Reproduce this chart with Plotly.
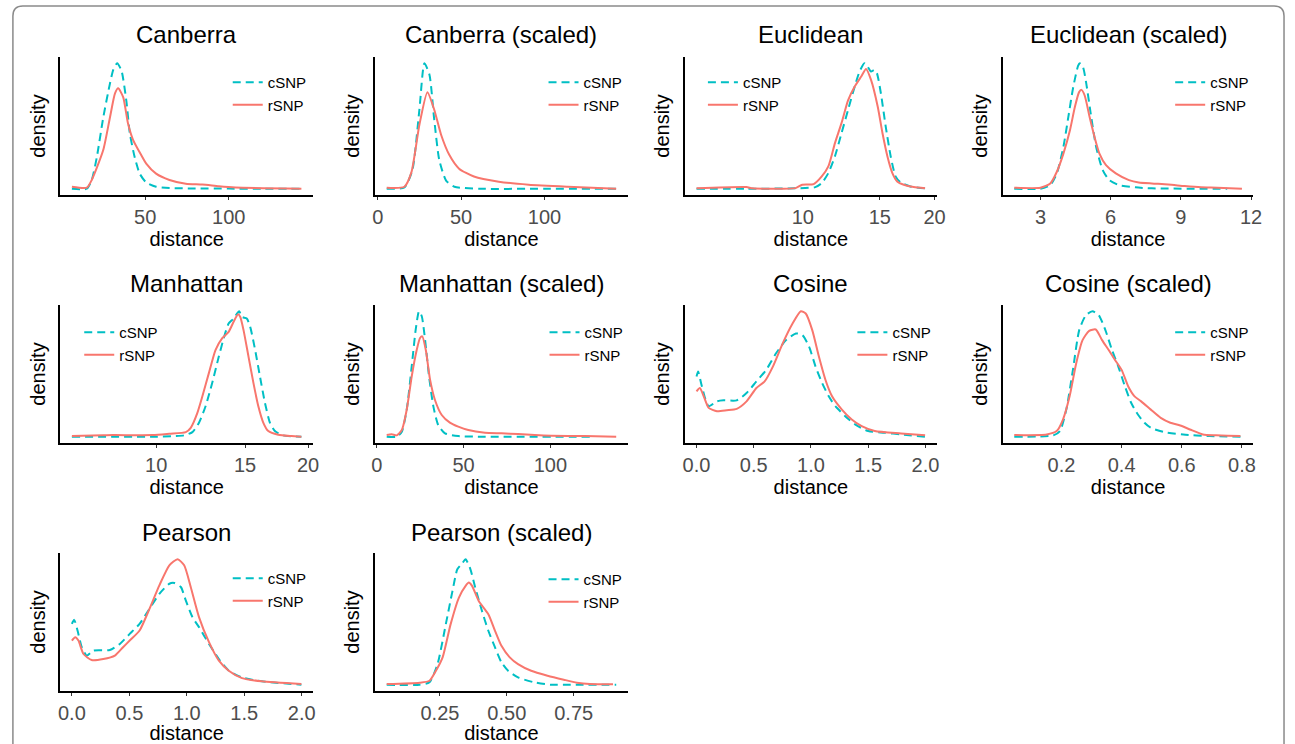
import plotly.graph_objects as go
import math

W, H = 1295, 744

titles = ["Canberra", "Canberra (scaled)", "Euclidean", "Euclidean (scaled)",
          "Manhattan", "Manhattan (scaled)", "Cosine", "Cosine (scaled)",
          "Pearson", "Pearson (scaled)"]

series_names = ["cSNP", "rSNP"]

# ---------------- data (relative density) ----------------
canberra_c_x = [6.1, 15, 18, 21, 24.9, 28.9, 30.9, 33.2, 35.8, 38.7, 40.8, 43.7, 46.7, 50.6, 56.5, 64.5, 80, 100, 120, 143.5]
canberra_c_y = [0, 0, 0.07, 0.25, 0.57, 0.84, 0.95, 1.0, 0.94, 0.70, 0.44, 0.25, 0.12, 0.05, 0.016, 0.005, 0.002, 0.001, 0, 0]
canberra_r_x = [6.1, 15, 18, 24.9, 28.9, 31.9, 33.8, 36.8, 39.7, 42.7, 46.7, 50.6, 56.5, 64.5, 74.3, 84.2, 94.1, 104, 143.5]
canberra_r_y = [0.016, 0.008, 0.07, 0.31, 0.57, 0.76, 0.80, 0.73, 0.52, 0.39, 0.29, 0.20, 0.12, 0.07, 0.04, 0.034, 0.02, 0.01, 0]

canberra_s_c_x = [5.4, 16, 20.8, 25, 28, 31, 33.9, 36.9, 41, 46, 61, 100, 143]
canberra_s_c_y = [0, 0.01, 0.15, 0.63, 1.0, 0.91, 0.55, 0.23, 0.065, 0.016, 0, 0, 0]
canberra_s_r_x = [5.4, 16, 20.2, 25, 29.8, 33.9, 38, 42.9, 48.8, 57.7, 72.6, 90.5, 114, 143]
canberra_s_r_y = [0.008, 0.016, 0.13, 0.51, 0.77, 0.63, 0.43, 0.27, 0.16, 0.097, 0.056, 0.032, 0.016, 0]

euclid_c_x = [5.72, 7.5, 9.63, 10.68, 11.05, 11.44, 11.84, 12.26, 12.69, 13.14, 13.48, 13.83, 14.07, 14.32, 14.57, 14.77, 15.08, 15.47, 15.88, 16.29, 16.72, 17.61, 19.03]
euclid_c_y = [0, 0, 0.003, 0.013, 0.045, 0.124, 0.256, 0.44, 0.625, 0.81, 0.929, 0.995, 0.968, 0.929, 0.942, 0.916, 0.757, 0.493, 0.256, 0.098, 0.05, 0.018, 0.003]
euclid_r_x = [5.72, 7.43, 7.69, 9.63, 9.97, 10.59, 11.05, 11.44, 11.84, 12.26, 12.69, 13.14, 13.60, 13.95, 14.32, 14.83, 15.21, 15.61, 16.02, 16.43, 17.01, 17.92, 19.03]
euclid_r_y = [0.003, 0.013, 0.003, 0.005, 0.032, 0.037, 0.098, 0.177, 0.36, 0.52, 0.70, 0.81, 0.89, 0.95, 0.863, 0.652, 0.44, 0.256, 0.124, 0.058, 0.032, 0.013, 0.003]

euclid_s_c_x = [1.88, 3.0, 3.42, 3.70, 3.98, 4.19, 4.40, 4.61, 4.68, 4.82, 4.96, 5.17, 5.38, 5.66, 5.94, 6.36, 7.06, 7.76, 10.98]
euclid_s_c_y = [0, 0, 0.029, 0.122, 0.333, 0.571, 0.81, 0.981, 1.0, 0.968, 0.836, 0.571, 0.333, 0.148, 0.069, 0.029, 0.011, 0.003, 0]
euclid_s_r_x = [1.88, 3.0, 3.42, 3.70, 3.98, 4.26, 4.47, 4.65, 4.75, 4.89, 5.10, 5.31, 5.52, 5.80, 6.22, 6.78, 7.20, 7.76, 8.46, 9.16, 9.86, 10.56, 11.61]
euclid_s_r_y = [0.008, 0.008, 0.042, 0.135, 0.28, 0.466, 0.651, 0.77, 0.788, 0.743, 0.571, 0.413, 0.28, 0.188, 0.122, 0.069, 0.05, 0.042, 0.034, 0.021, 0.011, 0.008, 0]

manh_c_x = [6.81, 9.85, 10.94, 11.36, 11.80, 12.16, 12.53, 12.91, 13.31, 13.61, 13.92, 14.24, 14.46, 14.61, 14.79, 15.12, 15.36, 15.71, 16.06, 16.43, 16.81, 17.19, 17.85, 19.40]
manh_c_y = [0, 0, 0.005, 0.011, 0.037, 0.111, 0.243, 0.427, 0.639, 0.784, 0.902, 0.942, 0.982, 1.0, 0.955, 0.942, 0.876, 0.691, 0.48, 0.269, 0.111, 0.045, 0.011, 0]
manh_r_x = [6.81, 7.86, 8.22, 9.85, 10.62, 11.45, 11.71, 12.07, 12.35, 12.72, 13.11, 13.51, 13.92, 14.24, 14.53, 14.68, 14.90, 15.24, 15.59, 15.94, 16.31, 16.68, 17.45, 18.53, 19.40]
manh_r_y = [0.005, 0.011, 0.013, 0.013, 0.024, 0.037, 0.071, 0.19, 0.322, 0.507, 0.691, 0.784, 0.836, 0.916, 0.976, 0.955, 0.85, 0.639, 0.427, 0.243, 0.111, 0.045, 0.016, 0.005, 0]

manh_s_c_x = [5.7, 11.5, 14.4, 17.2, 20.1, 22.4, 24.3, 25.9, 27.8, 30.1, 32.6, 35.4, 39.3, 46.9, 62.3, 123.6]
manh_s_c_y = [0, 0, 0.04, 0.213, 0.56, 0.853, 1.0, 0.96, 0.773, 0.48, 0.24, 0.093, 0.027, 0.005, 0, 0]
manh_s_r_x = [5.7, 8.6, 11.5, 14.4, 17.2, 20.1, 23.0, 24.9, 26.2, 28.2, 30.7, 33.5, 37.4, 42.1, 46.9, 52.7, 62.3, 71.8, 81.4, 91.0, 100.6, 119.7, 137.9]
manh_s_r_y = [0.013, 0.019, 0.011, 0.053, 0.213, 0.48, 0.693, 0.787, 0.8, 0.693, 0.453, 0.293, 0.173, 0.112, 0.08, 0.053, 0.032, 0.027, 0.021, 0.013, 0.008, 0.005, 0]

cos_c_x = [0.0, 0.014, 0.040, 0.078, 0.106, 0.178, 0.236, 0.351, 0.437, 0.523, 0.609, 0.695, 0.782, 0.868, 0.925, 0.983, 1.040, 1.098, 1.155, 1.213, 1.299, 1.385, 1.5, 1.644, 1.787, 1.997]
cos_c_y = [0.48, 0.52, 0.427, 0.296, 0.243, 0.282, 0.29, 0.29, 0.348, 0.441, 0.533, 0.665, 0.77, 0.823, 0.81, 0.718, 0.559, 0.427, 0.322, 0.243, 0.164, 0.098, 0.045, 0.032, 0.018, 0]
cos_r_x = [0.0, 0.029, 0.063, 0.106, 0.178, 0.264, 0.351, 0.437, 0.523, 0.595, 0.667, 0.753, 0.839, 0.911, 0.954, 1.011, 1.069, 1.126, 1.184, 1.270, 1.356, 1.443, 1.557, 1.787, 1.997]
cos_r_y = [0.361, 0.388, 0.322, 0.23, 0.203, 0.211, 0.222, 0.282, 0.388, 0.441, 0.559, 0.744, 0.902, 1.0, 0.982, 0.85, 0.639, 0.454, 0.322, 0.216, 0.137, 0.084, 0.045, 0.026, 0.011]

cos_s_c_x = [0.043, 0.173, 0.195, 0.216, 0.238, 0.259, 0.281, 0.303, 0.324, 0.346, 0.368, 0.389, 0.411, 0.432, 0.454, 0.476, 0.497, 0.541, 0.605, 0.692, 0.8]
cos_s_c_y = [0, 0.011, 0.045, 0.216, 0.533, 0.85, 0.968, 1.0, 0.968, 0.85, 0.691, 0.559, 0.401, 0.269, 0.177, 0.111, 0.071, 0.037, 0.018, 0.005, 0]
cos_s_r_x = [0.043, 0.151, 0.184, 0.205, 0.227, 0.249, 0.270, 0.292, 0.314, 0.335, 0.357, 0.378, 0.4, 0.422, 0.443, 0.465, 0.497, 0.530, 0.562, 0.595, 0.627, 0.670, 0.714, 0.795]
cos_s_r_y = [0.013, 0.018, 0.045, 0.137, 0.322, 0.586, 0.77, 0.844, 0.855, 0.77, 0.691, 0.612, 0.533, 0.401, 0.322, 0.282, 0.216, 0.15, 0.111, 0.09, 0.058, 0.018, 0.011, 0.005]

pear_c_x = [0, 0.020, 0.049, 0.086, 0.129, 0.187, 0.330, 0.417, 0.503, 0.589, 0.675, 0.761, 0.848, 0.891, 0.948, 0.991, 1.049, 1.106, 1.193, 1.279, 1.365, 1.480, 1.652, 1.997]
pear_c_y = [0.485, 0.517, 0.432, 0.299, 0.232, 0.272, 0.277, 0.325, 0.405, 0.485, 0.605, 0.725, 0.805, 0.811, 0.779, 0.672, 0.539, 0.459, 0.325, 0.205, 0.112, 0.059, 0.027, 0]
pear_r_x = [0, 0.029, 0.057, 0.101, 0.172, 0.273, 0.374, 0.445, 0.503, 0.589, 0.675, 0.761, 0.848, 0.920, 0.977, 1.034, 1.106, 1.193, 1.279, 1.365, 1.480, 1.652, 1.997]
pear_r_y = [0.352, 0.379, 0.352, 0.245, 0.197, 0.205, 0.232, 0.299, 0.352, 0.432, 0.605, 0.792, 0.952, 1.0, 0.952, 0.779, 0.539, 0.339, 0.192, 0.112, 0.053, 0.027, 0.005]

pear_s_c_x = [0.051, 0.174, 0.211, 0.241, 0.272, 0.297, 0.315, 0.333, 0.346, 0.364, 0.382, 0.407, 0.431, 0.456, 0.480, 0.505, 0.542, 0.603, 0.664, 0.738, 0.909]
pear_s_c_y = [0, 0, 0.019, 0.164, 0.483, 0.748, 0.92, 0.966, 1.0, 0.92, 0.775, 0.589, 0.43, 0.297, 0.178, 0.111, 0.058, 0.019, 0, 0, 0]
pear_s_r_x = [0.051, 0.174, 0.211, 0.235, 0.260, 0.290, 0.321, 0.346, 0.358, 0.370, 0.395, 0.431, 0.456, 0.480, 0.511, 0.542, 0.591, 0.652, 0.713, 0.762, 0.811, 0.897]
pear_s_r_y = [0.005, 0.016, 0.032, 0.111, 0.218, 0.483, 0.695, 0.788, 0.814, 0.788, 0.668, 0.562, 0.43, 0.31, 0.218, 0.164, 0.111, 0.072, 0.04, 0.016, 0.005, 0.003]

# tick values per panel
ticks_canberra = [50, 100]
ticks_canberra_s = [0, 50, 100]
ticks_euclid = [10, 15, 20]
ticks_euclid_s = [3, 6, 9, 12]
ticks_manh = [10, 15, 20]
ticks_manh_s = [0, 50, 100]
ticks_cos = [0.0, 0.5, 1.0, 1.5, 2.0]
ticks_cos_s = [0.2, 0.4, 0.6, 0.8]
ticks_pear = [0.0, 0.5, 1.0, 1.5, 2.0]
ticks_pear_s = [0.25, 0.50, 0.75]

panels = [
    (canberra_c_x, canberra_c_y, canberra_r_x, canberra_r_y, False, ticks_canberra, "{:g}"),
    (canberra_s_c_x, canberra_s_c_y, canberra_s_r_x, canberra_s_r_y, False, ticks_canberra_s, "{:g}"),
    (euclid_c_x, euclid_c_y, euclid_r_x, euclid_r_y, True, ticks_euclid, "{:g}"),
    (euclid_s_c_x, euclid_s_c_y, euclid_s_r_x, euclid_s_r_y, False, ticks_euclid_s, "{:g}"),
    (manh_c_x, manh_c_y, manh_r_x, manh_r_y, True, ticks_manh, "{:g}"),
    (manh_s_c_x, manh_s_c_y, manh_s_r_x, manh_s_r_y, False, ticks_manh_s, "{:g}"),
    (cos_c_x, cos_c_y, cos_r_x, cos_r_y, False, ticks_cos, "{:.1f}"),
    (cos_s_c_x, cos_s_c_y, cos_s_r_x, cos_s_r_y, False, ticks_cos_s, "{:.1f}"),
    (pear_c_x, pear_c_y, pear_r_x, pear_r_y, False, ticks_pear, "{:.1f}"),
    (pear_s_c_x, pear_s_c_y, pear_s_r_x, pear_s_r_y, False, ticks_pear_s, "{:.2f}"),
]

# ---------------- layout geometry (pixels) ----------------
col_px = [(57, 312), (375, 630), (688, 942), (1009, 1262)]
row_px = [(57, 195), (305, 443), (553, 691)]
title_y = [35, 283, 532]
legend_px = [(233, 82), (552, 82), (713, 82), (1185, 82),
             (83, 332), (553, 332), (864, 332), (1185, 332),
             (233, 578), (552, 579)]

COL_C = "#00BFC4"
COL_R = "#F8766D"
FONT = "Liberation Sans, Arial, Helvetica, sans-serif"

fig = go.Figure()
layout = dict(width=W, height=H, margin=dict(l=0, r=0, t=0, b=0),
              paper_bgcolor="white", plot_bgcolor="white",
              font=dict(family=FONT, color="black"), annotations=[], shapes=[])

def px_x(p):
    return p / W

def px_y(p):
    return 1 - p / H

for i, (cx, cy, rx, ry, is_log, tv, fmt) in enumerate(panels):
    r, c = divmod(i, 4)
    n = "" if i == 0 else str(i + 1)
    x0, x1 = col_px[c]
    y0, y1 = row_px[r]
    leg = "legend" if i == 0 else "legend%d" % (i + 1)
    allx = cx + rx
    ally = cy + ry
    if is_log:
        lo, hi = math.log10(min(allx)), math.log10(max(allx))
    else:
        lo, hi = min(allx), max(allx)
    d = (hi - lo) * 0.05
    xr = [lo - d, hi + d]
    ymax = max(ally)
    yr = [-0.05 * ymax, 1.05 * ymax]

    fig.add_trace(go.Scatter(x=cx, y=cy, mode="lines", name=series_names[0],
                             line=dict(color=COL_C, width=2, dash="8px,5px", shape="spline", smoothing=0.6),
                             xaxis="x" + n, yaxis="y" + n, legend=leg, legendgroup="c%d" % i))
    fig.add_trace(go.Scatter(x=rx, y=ry, mode="lines", name=series_names[1],
                             line=dict(color=COL_R, width=2, shape="spline", smoothing=0.6),
                             xaxis="x" + n, yaxis="y" + n, legend=leg, legendgroup="r%d" % i))

    layout["xaxis" + n] = dict(
        domain=[px_x(x0), px_x(x1)], anchor="y" + n, type="log" if is_log else "linear",
        range=xr, tickvals=tv, ticktext=[fmt.format(v) for v in tv],
        showline=True, linecolor="black", linewidth=1.6, mirror=False,
        ticks="outside", ticklen=3, tickwidth=1.2, tickcolor="#333333",
        showgrid=False, zeroline=False,
        tickfont=dict(size=20, color="#4D4D4D", family=FONT),
        title=dict(text="distance", font=dict(size=20, color="black", family=FONT), standoff=0),
    )
    layout["yaxis" + n] = dict(
        domain=[px_y(y1), px_y(y0)], anchor="x" + n, range=yr,
        showline=True, linecolor="black", linewidth=1.6,
        ticks="", showticklabels=False, showgrid=False, zeroline=False,
        title=dict(text="density", font=dict(size=20, color="black", family=FONT), standoff=8),
    )
    lx, ly = legend_px[i]
    layout[leg] = dict(x=px_x(lx - 7), y=px_y(ly - 16), xanchor="left", yanchor="top",
                       bgcolor="rgba(0,0,0,0)", borderwidth=0, tracegroupgap=0,
                       font=dict(size=15, family=FONT, color="black"))
    layout["annotations"].append(dict(text=titles[i], x=px_x((x0 + x1) / 2), y=px_y(title_y[r]),
                                      xref="paper", yref="paper", xanchor="center", yanchor="middle",
                                      showarrow=False, font=dict(size=24, family=FONT, color="black")))

# outer rounded frame
def P(x, y):
    return "%.5f,%.5f" % (px_x(x), px_y(y))

frame = ("M " + P(9, 760) + " L " + P(9, 16) + " Q " + P(9, 6) + " " + P(19, 6) +
         " L " + P(1283, 6) + " Q " + P(1293, 6) + " " + P(1293, 16) + " L " + P(1293, 760))
layout["shapes"].append(dict(type="path", path=frame, xref="paper", yref="paper",
                             line=dict(color="#8a8a8a", width=1.5)))

fig.update_layout(**layout)
fig.write_html("out.html", config={"displayModeBar": False},
               post_script="document.body.style.margin='0';document.body.style.overflow='hidden';")
